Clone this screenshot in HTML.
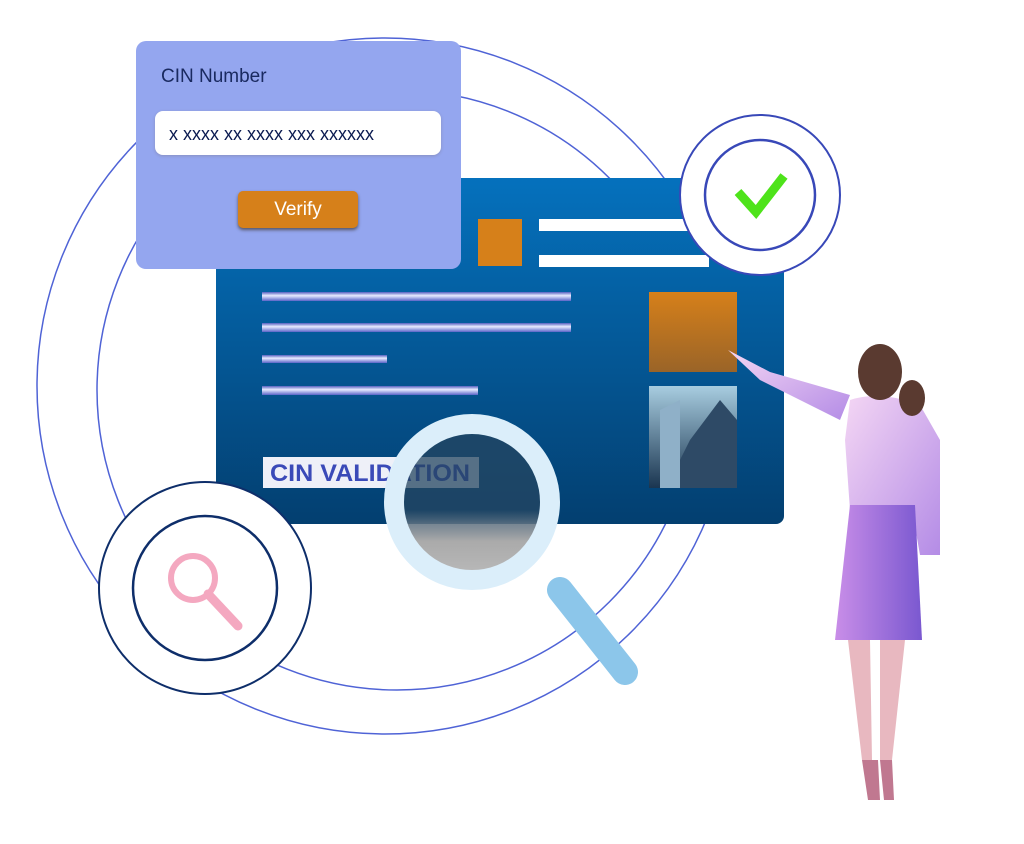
<!DOCTYPE html>
<html><head><style>
body{margin:0;width:1024px;height:844px;background:#fff;position:relative;overflow:hidden;font-family:"Liberation Sans",sans-serif}
.a{position:absolute}
</style></head><body>
<svg class="a" style="left:0;top:0" width="1024" height="844">
<defs>
<linearGradient id="card" x1="0" y1="0" x2="0" y2="1"><stop offset="0" stop-color="#0571bd"/><stop offset="1" stop-color="#033f70"/></linearGradient>
<linearGradient id="bar" x1="0" y1="0" x2="0" y2="1"><stop offset="0" stop-color="#5560c0"/><stop offset="0.4" stop-color="#e8ecff"/><stop offset="1" stop-color="#5a64c8"/></linearGradient>
<linearGradient id="or" x1="0" y1="0" x2="0" y2="1"><stop offset="0" stop-color="#d6801a"/><stop offset="1" stop-color="#9a6428"/></linearGradient>
<linearGradient id="bld" x1="0" y1="0" x2="0" y2="1"><stop offset="0" stop-color="#a8cde0"/><stop offset="1" stop-color="#1a3550"/></linearGradient>
<linearGradient id="lens" x1="0" y1="0" x2="0" y2="1"><stop offset="0" stop-color="#244560" stop-opacity="0.75"/><stop offset="0.55" stop-color="#244560" stop-opacity="0.75"/><stop offset="0.75" stop-color="#aaa"/><stop offset="1" stop-color="#bbb"/></linearGradient>
<linearGradient id="shirt" x1="0" y1="0" x2="1" y2="1"><stop offset="0" stop-color="#f4d6f4"/><stop offset="1" stop-color="#b48ce6"/></linearGradient>
<linearGradient id="skirt" x1="0" y1="0" x2="1" y2="0"><stop offset="0" stop-color="#c98ee8"/><stop offset="1" stop-color="#7a58d0"/></linearGradient>
</defs>
<circle cx="385" cy="386" r="348" fill="none" stroke="#4f63d6" stroke-width="1.5"/>
<circle cx="397" cy="390" r="300" fill="none" stroke="#4f63d6" stroke-width="1.5"/>
<rect x="216" y="178" width="568" height="346" rx="8" fill="url(#card)"/>
<rect x="478" y="219" width="44" height="47" fill="#d6801a"/>
<rect x="539" y="219" width="150" height="12" fill="#fff"/>
<rect x="539" y="255" width="170" height="12" fill="#fff"/>
<rect x="262" y="292" width="309" height="9" fill="url(#bar)"/>
<rect x="262" y="323" width="309" height="9" fill="url(#bar)"/>
<rect x="262" y="355" width="125" height="8" fill="url(#bar)"/>
<rect x="262" y="386" width="216" height="9" fill="url(#bar)"/>
<rect x="649" y="292" width="88" height="80" fill="url(#or)"/>
<rect x="649" y="386" width="88" height="102" fill="url(#bld)"/>
<polygon points="660,410 680,400 680,488 660,488" fill="#8fb0c8"/>
<polygon points="690,440 720,400 737,420 737,488 680,488 680,460" fill="#2e4a66"/>
<rect x="263" y="457" width="216" height="31" fill="#eef0f8"/>
<text x="270" y="481" font-size="24" font-weight="bold" fill="#3a4ab8" textLength="200" lengthAdjust="spacingAndGlyphs">CIN VALIDATION</text>
<circle cx="760" cy="195" r="80" fill="#fff" stroke="#3848b8" stroke-width="2"/>
<circle cx="760" cy="195" r="55" fill="#fff" stroke="#3848b8" stroke-width="2.5"/>
<polyline points="738,192 756,212 784,176" fill="none" stroke="#4ee31a" stroke-width="9"/>
<circle cx="205" cy="588" r="106" fill="#fff" stroke="#0e2e6a" stroke-width="2"/>
<circle cx="205" cy="588" r="72" fill="#fff" stroke="#0e2e6a" stroke-width="2.5"/>
<circle cx="193" cy="578" r="22" fill="none" stroke="#f4a8c0" stroke-width="6"/>
<line x1="208" y1="594" x2="238" y2="626" stroke="#f4a8c0" stroke-width="9" stroke-linecap="round"/>
<line x1="560" y1="590" x2="625" y2="672" stroke="#8cc6ea" stroke-width="26" stroke-linecap="round"/>
<circle cx="472" cy="502" r="78" fill="url(#lens)" stroke="#dbeefa" stroke-width="20"/>
<!-- woman -->
<path d="M728,350 L760,380 L840,420 L850,395 L770,372 Z" fill="url(#shirt)"/>
<path d="M850,400 Q880,390 920,405 L940,440 L940,555 L920,555 L912,510 L850,510 L845,440 Z" fill="url(#shirt)"/>
<path d="M850,505 L915,505 L922,640 L835,640 Z" fill="url(#skirt)"/>
<ellipse cx="880" cy="372" rx="22" ry="28" fill="#5a3a30"/>
<ellipse cx="912" cy="398" rx="13" ry="18" fill="#5a3a30"/>
<path d="M848,640 L862,760 L872,760 L870,640 Z M880,640 L880,760 L892,760 L905,640 Z" fill="#e8b8c0"/>
<path d="M862,760 L868,800 L880,800 L878,760 Z M880,760 L884,800 L894,800 L892,760 Z" fill="#c07890"/>
</svg>
<div class="a" style="left:136px;top:41px;width:325px;height:228px;background:#94a6ef;border-radius:10px"></div>
<div class="a" style="left:161px;top:66px;font-size:19px;color:#1a2a60">CIN Number</div>
<div class="a" style="left:155px;top:111px;width:286px;height:44px;background:#fff;border-radius:8px;box-shadow:0 1px 3px #8890c0"></div>
<div class="a" style="left:169px;top:124px;font-size:18px;color:#0a1a50">x xxxx xx xxxx xxx xxxxxx</div>
<div class="a" style="left:238px;top:191px;width:120px;height:37px;background:#d6801a;border-radius:5px;box-shadow:0 2px 3px #556;color:#fff;font-size:19px;text-align:center;line-height:37px">Verify</div>
</body></html>
